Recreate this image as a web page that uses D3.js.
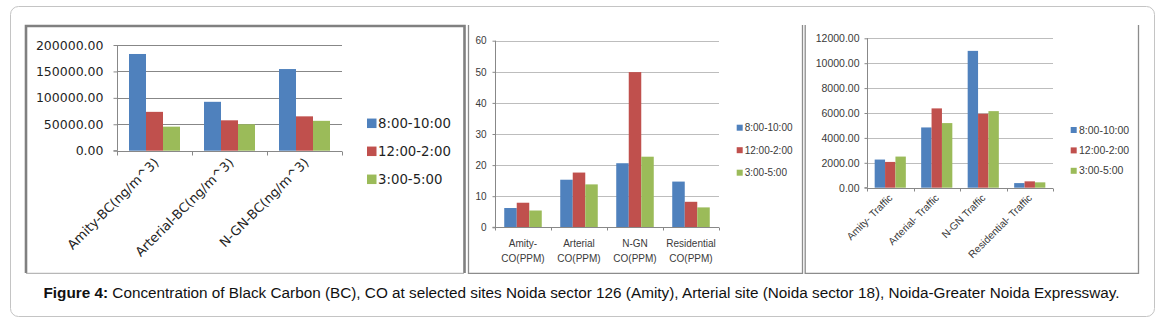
<!DOCTYPE html>
<html>
<head>
<meta charset="utf-8">
<script src="https://cdn.jsdelivr.net/npm/d3@7"></script>
<style>
  body { margin: 0; background: #fff; }
  svg { display: block; }
</style>
</head>
<body>
<script>
const series = ["8:00-10:00", "12:00-2:00", "3:00-5:00"];
const colors = ["#4f81bd", "#c0504d", "#9bbb59"];

// black carbon
const bcSites = ["Amity-BC(ng/m^3)", "Arterial-BC(ng/m^3)", "N-GN-BC(ng/m^3)"];
const bcMorning = [183000, 92500, 154500];
const bcNoon = [73500, 57500, 65000];
const bcEvening = [45500, 50000, 56500];
const bcTicks = [0, 50000, 100000, 150000, 200000];

// carbon monoxide
const coSites = [["Amity-", "CO(PPM)"], ["Arterial", "CO(PPM)"], ["N-GN", "CO(PPM)"], ["Residential", "CO(PPM)"]];
const coMorning = [6.2, 15.3, 20.6, 14.7];
const coNoon = [7.9, 17.6, 49.9, 8.2];
const coEvening = [5.4, 13.8, 22.7, 6.4];
const coTicks = [0, 10, 20, 30, 40, 50, 60];

// traffic
const trafficSites = ["Amity- Traffic", "Arterial- Traffic", "N-GN Traffic", "Residential- Traffic"];
const trafficMorning = [2260, 4840, 10990, 370];
const trafficNoon = [2070, 6370, 5940, 510];
const trafficEvening = [2500, 5190, 6150, 430];
const trafficTicks = [0, 2000, 4000, 6000, 8000, 10000, 12000];

const svg = d3.select("body").append("svg").attr("width", 1163).attr("height", 321);

// outer frame
svg.append("rect")
  .attr("x", 10.5).attr("y", 6.5)
  .attr("width", 1144).attr("height", 310)
  .attr("rx", 8)
  .attr("fill", "#fff")
  .attr("stroke", "#c4c4c4");

// panel frames
const frame = svg.append("g").attr("fill", "none");
frame.append("path")
  .attr("d", "M26,273 V26 H464.5 V273")
  .attr("stroke", "#808080").attr("stroke-width", 2.6);
frame.append("path").attr("d", "M26,273.3 H464").attr("stroke", "#a6a6a6");
frame.append("path").attr("d", "M468.5,25 V273.3 H802.5 V25").attr("stroke", "#8c8c8c").attr("stroke-width", 1.3);
frame.append("path").attr("d", "M805.2,25 V273.3 H1138.5 V25").attr("stroke", "#8c8c8c").attr("stroke-width", 1.3);

function drawChart(cfg) {
  const { left, right, top, bottom } = cfg;
  const g = svg.append("g");

  const y = d3.scaleLinear().domain([0, d3.max(cfg.ticks)]).range([bottom, top]);
  const x0 = d3.scaleBand().domain(cfg.sites.map((d, i) => i)).range([left, right]);
  const gap = x0.bandwidth() * cfg.gap;
  const x1 = d3.scaleBand().domain(series).range([gap, x0.bandwidth() - gap]);

  // gridlines
  g.append("g")
    .selectAll("line")
    .data(cfg.ticks.slice(1))
    .join("line")
    .attr("x1", left).attr("x2", right)
    .attr("y1", (d) => Math.round(y(d)) + 0.5)
    .attr("y2", (d) => Math.round(y(d)) + 0.5)
    .attr("stroke", cfg.gridColor);

  // bars
  const values = [cfg.morning, cfg.noon, cfg.evening];
  const rows = [];
  cfg.sites.forEach((s, i) => {
    series.forEach((k, j) => rows.push({ site: i, key: k, color: colors[j], value: values[j][i] }));
  });
  g.append("g")
    .selectAll("rect")
    .data(rows)
    .join("rect")
    .attr("x", (d) => x0(d.site) + x1(d.key))
    .attr("y", (d) => y(d.value))
    .attr("width", x1.bandwidth())
    .attr("height", (d) => y(0) - y(d.value))
    .attr("fill", (d) => d.color);

  // y axis
  const yAxis = d3.axisLeft(y)
    .tickValues(cfg.ticks)
    .tickSize(cfg.tickLen)
    .tickPadding(cfg.tickPad)
    .tickFormat(cfg.format);
  const ya = g.append("g").attr("transform", `translate(${left + 0.5},0)`).call(yAxis);
  ya.select(".domain").attr("stroke", "#888").attr("d", `M-${cfg.tickLen},${y(0)}H0V${top}`);
  ya.selectAll(".tick line").attr("stroke", "#888");
  ya.selectAll(".tick text")
    .attr("fill", cfg.textColor)
    .style("font-family", cfg.font)
    .style("font-size", cfg.tickSize + "px");

  // x axis with ticks at band edges
  const xa = g.append("g").attr("stroke", "#888");
  const axisY = Math.round(y(0)) + 0.5;
  xa.append("line").attr("x1", left).attr("x2", right).attr("y1", axisY).attr("y2", axisY);
  const edges = cfg.sites.map((d, i) => x0(i)).concat([x0.range()[1]]);
  xa.selectAll(".edge")
    .data(edges)
    .join("line")
    .attr("class", "edge")
    .attr("x1", (d) => Math.round(d) + 0.5).attr("x2", (d) => Math.round(d) + 0.5)
    .attr("y1", axisY).attr("y2", axisY + cfg.tickLen);

  // category labels
  const labels = g.append("g")
    .attr("fill", cfg.textColor)
    .style("font-family", cfg.font)
    .style("font-size", cfg.labelSize + "px");
  if (cfg.rotate) {
    labels.selectAll("text")
      .data(cfg.sites)
      .join("text")
      .attr("text-anchor", "end")
      .attr("transform", (d, i) =>
        `translate(${x0(i) + x0.bandwidth() / 2 + cfg.labelDx},${axisY + cfg.labelDy}) rotate(-45)`)
      .text((d) => d);
  } else {
    labels.selectAll("text")
      .data(cfg.sites)
      .join("text")
      .attr("text-anchor", "middle")
      .attr("x", (d, i) => x0(i) + x0.bandwidth() / 2)
      .attr("y", axisY + cfg.labelDy)
      .selectAll("tspan")
      .data((d) => d)
      .join("tspan")
      .attr("x", function () { return this.parentNode.getAttribute("x"); })
      .attr("dy", (d, i) => (i === 0 ? 0 : 15))
      .text((d) => d);
  }

  // legend
  const legend = g.append("g").attr("transform", `translate(${cfg.legendX},${cfg.legendY})`);
  series.forEach((s, i) => {
    const row = legend.append("g").attr("transform", `translate(0,${i * cfg.legendStep})`);
    row.append("rect")
      .attr("x", 0).attr("y", -cfg.swatch / 2)
      .attr("width", cfg.swatch).attr("height", cfg.swatch)
      .attr("fill", colors[i]);
    row.append("text")
      .attr("x", cfg.swatch + cfg.legendGap)
      .attr("dy", "0.35em")
      .attr("fill", cfg.textColor)
      .style("font-family", cfg.font)
      .style("font-size", cfg.legendSize + "px")
      .text(s);
  });
}

drawChart({
  sites: bcSites, morning: bcMorning, noon: bcNoon, evening: bcEvening, ticks: bcTicks,
  left: 117, right: 342, top: 45, bottom: 150.7, gap: 0.16,
  format: d3.format(".2f"), font: "DejaVu Sans", textColor: "#1f1f1f", gridColor: "#878787",
  tickSize: 12.5, tickLen: 4, tickPad: 10,
  rotate: true, labelSize: 13, labelDx: 5, labelDy: 12,
  legendX: 367, legendY: 123.3, legendStep: 28, swatch: 9.5, legendGap: 1.5, legendSize: 13.3
});

drawChart({
  sites: coSites, morning: coMorning, noon: coNoon, evening: coEvening, ticks: coTicks,
  left: 495, right: 719, top: 40.7, bottom: 227.3, gap: 0.165,
  format: d3.format("d"), font: "Liberation Sans", textColor: "#3a3a3a", gridColor: "#bdbdbd",
  tickSize: 10, tickLen: 3, tickPad: 6,
  rotate: false, labelSize: 10, labelDy: 19,
  legendX: 736.7, legendY: 127.7, legendStep: 22.5, swatch: 6, legendGap: 2, legendSize: 10
});

drawChart({
  sites: trafficSites, morning: trafficMorning, noon: trafficNoon, evening: trafficEvening, ticks: trafficTicks,
  left: 867, right: 1053, top: 38.3, bottom: 187.7, gap: 0.165,
  format: d3.format(".2f"), font: "Liberation Sans", textColor: "#3a3a3a", gridColor: "#bdbdbd",
  tickSize: 10.5, tickLen: 3, tickPad: 5,
  rotate: true, labelSize: 10.3, labelDx: 3, labelDy: 10,
  legendX: 1070.7, legendY: 130, legendStep: 20.4, swatch: 6, legendGap: 2.3, legendSize: 10.5
});

// caption
const caption = svg.append("text")
  .attr("x", 581.5).attr("y", 297.5)
  .attr("text-anchor", "middle")
  .attr("fill", "#111")
  .style("font-family", "Liberation Sans, Arial, sans-serif")
  .style("font-size", "15.3px");
caption.append("tspan").attr("font-weight", "bold").text("Figure 4:");
caption.append("tspan").text(" Concentration of Black Carbon (BC), CO at selected sites Noida sector 126 (Amity), Arterial site (Noida sector 18), Noida-Greater Noida Expressway.");
</script>
</body>
</html>
